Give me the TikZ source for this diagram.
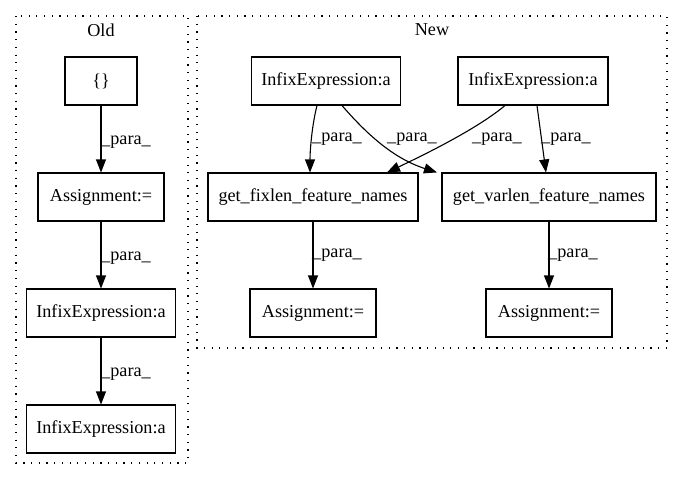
\documentclass[tikz,border=0pt]{standalone}
\usepackage{fontspec}
\setmainfont{Liberation Serif}
\usetikzlibrary{arrows.meta}
\begin{document}
\begin{tikzpicture}[x=1pt,y=-1pt,
  every node/.style={font=\fontsize{18.2}{22}\selectfont},
  box/.style={draw,line width=1.1pt,minimum height=48pt,inner sep=0pt},
  cluster/.style={draw,line width=1.1pt,dash pattern=on 1.2pt off 6.5pt},
  edge/.style={line width=1.1pt,-{Triangle[length=13pt,width=10pt]}},
  lbl/.style={inner sep=0pt}]
\useasboundingbox (0,0) rectangle (683,480);
% clusters
\draw[cluster] (16,16) rectangle (188,463);
\node at (101,30) {Old};
\draw[cluster] (197,16) rectangle (667,348);
\node at (432,30) {New};
% Old nodes
\node[box,minimum width=72pt] (o1) at (101,81) {\{\}};
\node[box,minimum width=126pt] (o2) at (101,197) {Assignment:=};
\node[box,minimum width=149pt] (o3) at (101,313) {InfixExpression:a};
\node[box,minimum width=149pt] (o4) at (101,429) {InfixExpression:a};
\draw[edge] (o1) -- (o2);
\draw[edge] (o2) -- (o3);
\draw[edge] (o3) -- (o4);
\node[lbl] at (126,142) {\_para\_};
\node[lbl] at (126,258) {\_para\_};
\node[lbl] at (126,374) {\_para\_};
% New nodes
\node[box,minimum width=149pt] (n1) at (326,81) {InfixExpression:a};
\node[box,minimum width=150pt] (n2) at (533,81) {InfixExpression:a};
\node[box,minimum width=210pt] (n3) at (313,197) {get\_fixlen\_feature\_names};
\node[box,minimum width=214pt] (n4) at (549,197) {get\_varlen\_feature\_names};
\node[box,minimum width=126pt] (n5) at (313,313) {Assignment:=};
\node[box,minimum width=126pt] (n6) at (549,313) {Assignment:=};
\draw[edge] ([xshift=-9pt]n1.south) .. controls (312,125) and (310,150) .. ([xshift=-3pt]n3.north);
\draw[edge] ([xshift=16pt]n1.south) .. controls (365,132) and (392,158) .. ([xshift=-112pt]n4.north);
\draw[edge] ([xshift=-28pt]n2.south) .. controls (478,128) and (430,152) .. ([xshift=74pt]n3.north);
\draw[edge] ([xshift=4pt]n2.south) -- ([xshift=-3pt]n4.north);
\draw[edge] (n3) -- (n5);
\draw[edge] (n4) -- (n6);
\node[lbl] at (337,139) {\_para\_};
\node[lbl] at (412,139) {\_para\_};
\node[lbl] at (497,139) {\_para\_};
\node[lbl] at (566,139) {\_para\_};
\node[lbl] at (337,255) {\_para\_};
\node[lbl] at (573,255) {\_para\_};
\end{tikzpicture}
\end{document}
